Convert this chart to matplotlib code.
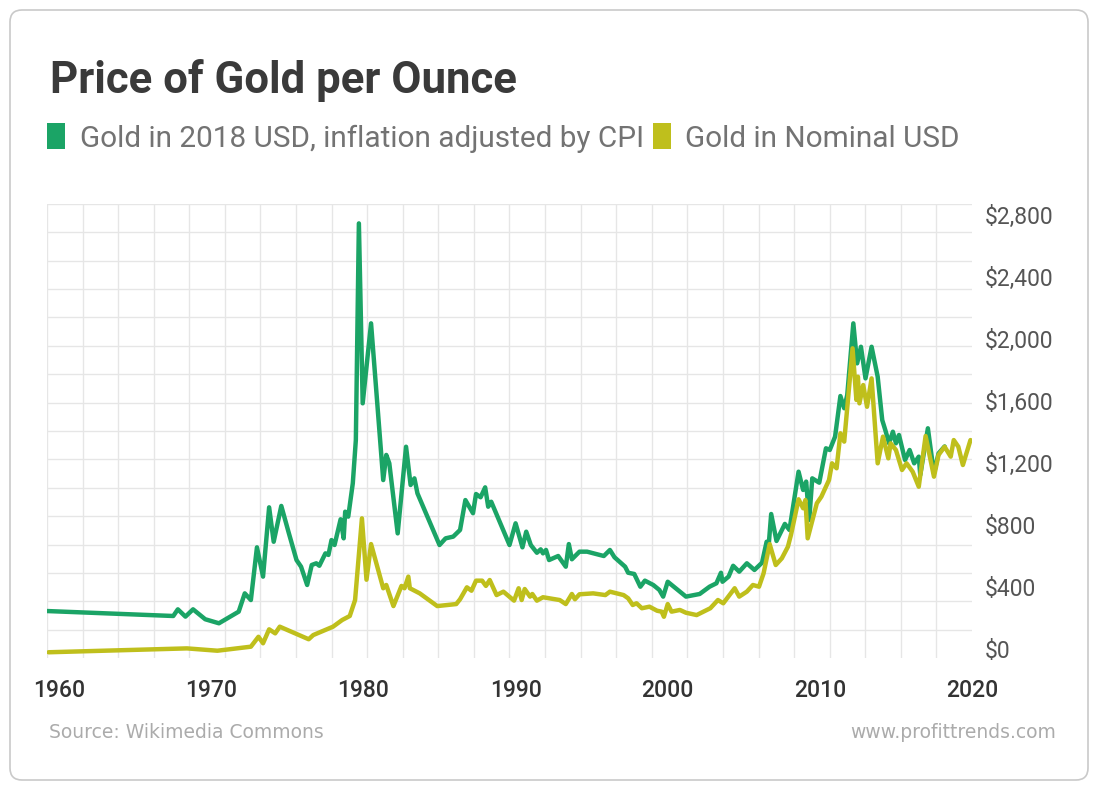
import matplotlib
matplotlib.use("Agg")
import matplotlib.pyplot as plt
import numpy as np
from matplotlib.patches import FancyBboxPatch, Patch

# gold in 2018 USD (CPI adjusted)
real_years = [1959.2, 1967.5, 1967.8, 1968.3, 1968.8, 1969.6, 1970.5, 1971.8, 1972.2, 1972.6,
              1973.0, 1973.4, 1973.8, 1974.1, 1974.6, 1975.1, 1975.6, 1975.9, 1976.3, 1976.6,
              1976.9, 1977.1, 1977.5, 1977.7, 1977.9, 1978.1, 1978.5, 1978.7, 1978.8, 1979.0,
              1979.3, 1979.5, 1979.7, 1979.95, 1980.5, 1981.3, 1981.5, 1981.7, 1982.25, 1982.8,
              1983.1, 1983.35, 1983.55, 1985.0, 1985.4, 1985.9, 1986.35, 1986.7, 1987.2, 1987.4,
              1987.7, 1988.0, 1988.2, 1988.4, 1989.6, 1990.0, 1990.45, 1990.7, 1991.0, 1991.4,
              1991.65, 1991.8, 1992.0, 1992.2, 1992.8, 1993.3, 1993.5, 1993.7, 1994.2, 1994.7,
              1995.8, 1996.2, 1996.5, 1997.2, 1997.4, 1997.8, 1998.2, 1998.5, 1999.05, 1999.45,
              1999.7, 2000.0, 2001.2, 2002.1, 2002.75, 2003.2, 2003.5, 2003.6, 2004.0, 2004.3,
              2004.7, 2005.2, 2005.7, 2006.2, 2006.5, 2006.65, 2006.8, 2007.15, 2007.7, 2008.0,
              2008.6, 2008.9, 2009.1, 2009.3, 2009.5, 2009.96, 2010.4, 2010.65, 2011.0, 2011.35,
              2011.6, 2011.8, 2012.2, 2012.45, 2012.7, 2013.0, 2013.4, 2013.8, 2014.1, 2014.3,
              2014.55, 2014.8, 2015.0, 2015.2, 2015.6, 2015.9, 2016.2, 2016.5, 2016.6, 2017.1,
              2017.5, 2017.8, 2018.2]
real_vals = [303, 271, 314, 267, 314, 250, 224, 299, 417, 374,
             714, 525, 972, 750, 981, 804, 632, 589, 471, 600,
             611, 595, 675, 665, 761, 729, 895, 772, 944, 912,
             1127, 1406, 2804, 1643, 2159, 1148, 1310, 1256, 804, 1363,
             1116, 1159, 1062, 729, 772, 783, 826, 1019, 934, 1058,
             1037, 1101, 976, 1008, 729, 869, 714, 815, 729, 679,
             701, 675, 697, 632, 658, 589, 735, 637, 686, 686,
             658, 697, 650, 589, 550, 542, 460, 499, 471, 439,
             396, 492, 396, 413, 460, 482, 550, 492, 525, 595,
             557, 611, 568, 615, 750, 744, 929, 755, 865, 826,
             1202, 1084, 1138, 890, 1159, 1131, 1353, 1342, 1428, 1690,
             1611, 1697, 2159, 1901, 2008, 1804, 2008, 1815, 1535, 1471,
             1385, 1460, 1385, 1439, 1277, 1342, 1256, 1299, 1181, 1482,
             1190, 1320, 1365]

# gold in nominal USD
nom_years = [1959.3, 1968.4, 1970.4, 1972.6, 1973.1, 1973.4, 1973.8, 1974.2, 1974.5, 1976.4,
             1976.7, 1978.0, 1978.6, 1979.1, 1979.45, 1979.9, 1980.2, 1980.5, 1981.3, 1981.5,
             1981.97, 1982.5, 1982.7, 1982.95, 1983.05, 1983.7, 1984.85, 1986.1, 1986.35, 1986.8,
             1987.1, 1987.4, 1987.8, 1988.05, 1988.3, 1988.75, 1989.2, 1989.9, 1990.2, 1990.4,
             1990.6, 1990.95, 1991.1, 1991.4, 1991.8, 1992.9, 1993.3, 1993.7, 1993.9, 1994.2,
             1995.1, 1995.9, 1996.2, 1997.1, 1997.4, 1997.7, 1997.95, 1998.3, 1998.8, 1999.3,
             1999.6, 1999.75, 2000.0, 2000.25, 2000.8, 2001.2, 2001.9, 2002.8, 2003.3, 2003.65,
             2004.4, 2004.7, 2005.2, 2005.6, 2006.0, 2006.3, 2006.7, 2007.1, 2007.5, 2007.9,
             2008.1, 2008.6, 2008.9, 2009.05, 2009.2, 2009.8, 2010.1, 2010.6, 2010.8, 2011.1,
             2011.35, 2011.6, 2012.15, 2012.4, 2012.5, 2012.6, 2012.85, 2013.1, 2013.4, 2013.8,
             2014.15, 2014.5, 2014.65, 2015.0, 2015.4, 2015.7, 2016.1, 2016.5, 2016.95, 2017.5,
             2017.8, 2018.2, 2018.6, 2018.8, 2019.1, 2019.4, 2019.9]
nom_vals = [37, 62, 47, 73, 137, 95, 185, 159, 202, 121,
            148, 202, 245, 271, 374, 901, 505, 735, 450, 471,
            335, 465, 450, 525, 450, 417, 335, 348, 379, 456,
            434, 499, 499, 465, 503, 406, 428, 370, 450, 374,
            445, 396, 413, 370, 392, 374, 348, 413, 379, 411,
            417, 406, 428, 406, 385, 342, 353, 321, 331, 305,
            299, 266, 348, 299, 310, 292, 277, 321, 374, 353,
            450, 396, 428, 471, 460, 546, 735, 600, 643, 718,
            794, 1024, 966, 1019, 772, 998, 1041, 1148, 1256, 1224,
            1450, 1396, 1998, 1665, 1815, 1643, 1761, 1621, 1804, 1256,
            1428, 1288, 1385, 1342, 1213, 1256, 1202, 1105, 1432, 1170,
            1310, 1363, 1299, 1406, 1363, 1245, 1406]

decades = [1960, 1970, 1980, 1990, 2000, 2010, 2020]
price_ticks = [0, 400, 800, 1200, 1600, 2000, 2400, 2800]

GREEN = "#1ba466"
YELLOW = "#bfbf1c"
W, H = 1100, 791

fig = plt.figure(figsize=(W / 100, H / 100), dpi=100)
fig.patch.set_facecolor("white")

# card outline
card = FancyBboxPatch((0.10, 0.11), 10.78, 7.70, boxstyle="round,pad=0,rounding_size=0.12",
                      transform=fig.dpi_scale_trans, facecolor="none", edgecolor="#c9c9c9",
                      linewidth=1.2, zorder=-1)
fig.patches.append(card)

left, right, top, bottom = 47, 972, 204, 658
ax = fig.add_axes([left / W, 1 - bottom / H, (right - left) / W, (bottom - top) / H])
ax.set_facecolor("none")

xmin, xmax = 1959.2, 2020
ymax = (bottom - top) / 0.155
ax.set_xlim(xmin, xmax)
ax.set_ylim(0, ymax)

# decorative grid, uniform cells
ax.set_xticks(np.linspace(xmin, xmax, 27), minor=True)
ax.set_yticks(np.linspace(0, ymax, 17), minor=True)
ax.grid(which="minor", color="#e6e6e6", linewidth=1.0)
ax.grid(which="major", visible=False)
ax.set_axisbelow(True)

ax.plot(real_years, real_vals, color=GREEN, lw=3.2, solid_joinstyle="round",
        solid_capstyle="round", zorder=3)
ax.plot(nom_years, nom_vals, color=YELLOW, lw=3.2, solid_joinstyle="round",
        solid_capstyle="round", zorder=4)

for s in ax.spines.values():
    s.set_visible(False)

ax.set_xticks(decades)
ax.set_xticklabels([str(d) for d in decades], fontsize=16.5, color="#333333", family="Roboto",
                   fontweight="medium")
ax.tick_params(axis="x", which="both", length=0, pad=15)

ax.yaxis.tick_right()
ax.set_yticks(price_ticks)
ax.set_yticklabels(["${:,}".format(p) for p in price_ticks], fontsize=16.5, color="#555555",
                   family="Roboto", va="baseline")
ax.tick_params(axis="y", which="both", length=0, pad=9)

fig.text(50 / W, 1 - 93 / H, "Price of Gold per Ounce", fontsize=31.5, fontweight="bold",
         color="#3a3a3a", family="Roboto", va="baseline")

handles = [Patch(facecolor=GREEN, edgecolor="none"), Patch(facecolor=YELLOW, edgecolor="none")]
fig.legend(handles, ["Gold in 2018 USD, inflation adjusted by CPI", "Gold in Nominal USD"],
           loc="center left", bbox_to_anchor=(47 / W, 1 - 138 / H), ncol=2, frameon=False,
           prop={"family": "Roboto", "size": 21.4}, labelcolor="#737373",
           handlelength=0.6, handleheight=0.95, handletextpad=0.5, columnspacing=0.3,
           borderpad=0, borderaxespad=0)

fig.text(49 / W, 1 - 738 / H, "Source: Wikimedia Commons", fontsize=13.5, color="#ababab",
         family="DejaVu Sans", va="baseline")
fig.text(1056 / W, 1 - 738 / H, "www.profittrends.com", fontsize=13.5, color="#ababab",
         family="DejaVu Sans", va="baseline", ha="right")

fig.savefig("out.png", dpi=100)
